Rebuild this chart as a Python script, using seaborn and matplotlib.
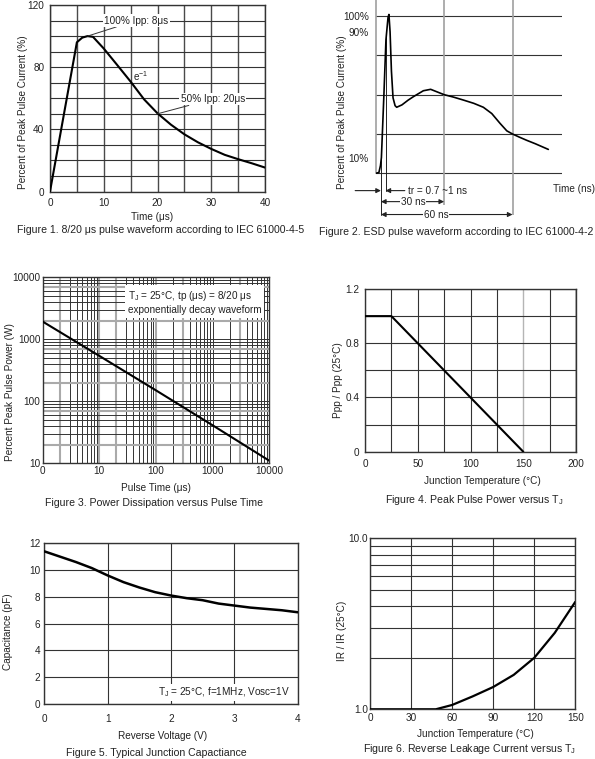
import numpy as np
import pandas as pd
import matplotlib
matplotlib.use("Agg")
import matplotlib.pyplot as plt
import seaborn as sns
from matplotlib.ticker import FixedLocator, NullFormatter, NullLocator

# ---------------- data ----------------
# Figure 1: 8/20 us waveform
f1_time = [0, 5, 6, 7, 8, 10, 12.5, 15, 17.5, 20, 22.5, 25, 27.5, 30, 32.5, 35, 37.5, 40]
f1_pct = [0, 96, 99, 100, 99.5, 92, 81.4, 70.7, 59.3, 50.3, 43, 36.8, 31.7, 27.4, 23.6, 20.8, 18.2, 15.4]
f1_xticks = [0, 10, 20, 30, 40]
f1_yticks = [0, 40, 80, 120]

# Figure 2: ESD waveform
f2_time = [0, 1.4, 2.1, 2.5, 3.6, 4.5, 5.4, 5.8, 6.3, 6.9, 7.6, 8.5, 9.2, 11.5, 14.2, 16.5,
           20.9, 24.1, 26.7, 30, 34, 38.4, 43, 47.2, 50.9, 54.5, 57.5, 60, 63, 66.2, 70, 75.7]
f2_pct = [0, 0.5, 5, 10, 50, 85, 99, 101, 90, 65, 48, 43, 42, 43.5, 46.5, 48.7,
          52.5, 53.4, 51.9, 50, 48.5, 46.6, 44.5, 42, 38, 31.8, 27, 25, 23, 21, 18.8, 15.2]
f2_yticks = [10, 90, 100]
f2_yticklabels = ["10%", "90%", "100%"]
f2_levels = [0, 25, 50, 75, 100]
f2_tr_start, f2_tr_end = 2.3, 4.3
f2_span30, f2_span60 = 30, 60

# Figure 3: power vs pulse time
f3_time = [1, 10, 100, 1000, 10000]
f3_power = [1930, 540, 150, 41, 11]
f3_xticks = [1, 10, 100, 1000, 10000]
f3_xticklabels = ["0", "10", "100", "1000", "10000"]
f3_yticks = [10, 100, 1000, 10000]
f3_yticklabels = ["10", "100", "1000", "10000"]

# Figure 4: derating
f4_temp = [0, 25, 150]
f4_ratio = [1.0, 1.0, 0.0]
f4_xticks = [0, 50, 100, 150, 200]
f4_yticks = [0, 0.4, 0.8, 1.2]
f4_yticklabels = ["0", "0.4", "0.8", "1.2"]

# Figure 5: capacitance
f5_volt = [0, 0.25, 0.5, 0.75, 1.0, 1.25, 1.5, 1.75, 2.0, 2.25, 2.5, 2.75, 3.0, 3.25, 3.5, 3.75, 4.0]
f5_cap = [11.4, 11.0, 10.6, 10.15, 9.6, 9.1, 8.7, 8.35, 8.1, 7.9, 7.75, 7.5, 7.35, 7.2, 7.1, 7.0, 6.85]
f5_xticks = [0, 1, 2, 3, 4]
f5_yticks = [0, 2, 4, 6, 8, 10, 12]

# Figure 6: leakage
f6_temp = [0, 30, 48, 60, 75, 90, 105, 120, 135, 150]
f6_ratio = [1.0, 1.0, 1.0, 1.06, 1.19, 1.35, 1.59, 2.0, 2.8, 4.25]
f6_xticks = [0, 30, 60, 90, 120, 150]
f6_yticks = [1, 10]
f6_yticklabels = ["1.0", "10.0"]

# ---------------- style ----------------
sns.set_style("white")
plt.rcParams['font.family'] = ['Liberation Sans', 'DejaVu Sans']
plt.rcParams['mathtext.fontset'] = 'custom'
plt.rcParams['mathtext.rm'] = 'Liberation Sans'
FS = 7.2
FSC = 7.6
TXT = '#222222'
DARK = '#333333'
LIGHT = '#aaaaaa'

W, H = 595, 759
fig = plt.figure(figsize=(W / 100, H / 100), dpi=100)


def make_ax(box):
    l, t, r, b = box
    ax = fig.add_axes([l / W, 1 - b / H, (r - l) / W, (b - t) / H])
    return ax


def place_labels(ax, box, xl=None, yl=None):
    l, t, r, b = box
    if xl is not None:
        ax.xaxis.set_label_coords((xl[0] - l) / (r - l), (b - xl[1]) / (b - t))
        ax.xaxis.label.set_va('center')
    if yl is not None:
        ax.yaxis.set_label_coords((yl[0] - l) / (r - l), (b - yl[1]) / (b - t))
        ax.yaxis.label.set_va('center')


def frame(ax, lw=1.0):
    for s in ax.spines.values():
        s.set_visible(True)
        s.set_color(DARK)
        s.set_linewidth(lw)


def caption(x, y, s):
    fig.text(x / W, 1 - y / H, s, ha='center', va='center', fontsize=FSC, color=TXT)


# ---------------- Figure 1 ----------------
b1 = (50, 5, 265, 191.5)
ax1 = make_ax(b1)
sns.lineplot(x=f1_time, y=f1_pct, ax=ax1, color='black', lw=1.5, zorder=3)
ax1.set_xlim(0, 40)
ax1.set_ylim(0, 120)
ax1.set_xticks(f1_xticks)
ax1.set_yticks(f1_yticks)
ax1.xaxis.set_minor_locator(FixedLocator([5, 15, 25, 35]))
ax1.yaxis.set_minor_locator(FixedLocator([10, 20, 30, 50, 60, 70, 90, 100, 110]))
ax1.grid(True, which='both', color=DARK, lw=0.8)
for tk in ax1.yaxis.get_minor_ticks():
    if tk.get_loc() in (30, 70, 90):
        tk.gridline.set_color(LIGHT)
        tk.gridline.set_linewidth(1.6)
for tk in ax1.xaxis.get_minor_ticks() + ax1.xaxis.get_major_ticks():
    tk.gridline.set_color('#4a4a4a')
    tk.gridline.set_linewidth(1.0)
ax1.set_axisbelow(True)
ax1.tick_params(which='both', length=0, labelsize=FS, labelcolor=TXT)
ax1.tick_params(axis='x', pad=5)
ax1.tick_params(axis='y', pad=4)
frame(ax1)
ax1.set_xlabel("Time (μs)", fontsize=FS, color=TXT)
ax1.set_ylabel("Percent of Peak Pulse Current (%)", fontsize=FS, color=TXT)
place_labels(ax1, b1, xl=(151.7, 216.7), yl=(23.3, 112))
bb = dict(facecolor='white', edgecolor='none', pad=1)
ax1.annotate("100% Ipp: 8μs", xy=(7, 100), xytext=(10.1, 110), fontsize=FS, color=TXT,
             ha='left', va='center', bbox=bb,
             arrowprops=dict(arrowstyle='-', color=DARK, lw=0.7, shrinkA=0, shrinkB=0))
ax1.text(15.4, 74.5, "e$^{-1}$", fontsize=FS, color=TXT, ha='left', va='center')
ax1.annotate("50% Ipp: 20μs", xy=(20, 50), xytext=(24.3, 59.5), fontsize=FS, color=TXT,
             ha='left', va='center', bbox=bb,
             arrowprops=dict(arrowstyle='-', color=DARK, lw=0.7, shrinkA=0, shrinkB=0))
caption(161, 230, "Figure 1. 8/20 μs pulse waveform according to IEC 61000-4-5")

# ---------------- Figure 2 ----------------
b2 = (375.7, 0.3, 562, 220.5)
ax2 = make_ax(b2)
ax2.set_xlim(0, 81.7)
ax2.set_ylim(-30, 110)
for lv in f2_levels:
    ax2.axhline(lv, color=DARK, lw=0.8, zorder=1)
ax2.vlines(f2_span30, -20, 110, color='#a0a0a0', lw=1.2, zorder=1)
ax2.vlines(f2_span60, -26.8, 110, color='#a0a0a0', lw=1.2, zorder=1)
sns.lineplot(x=f2_time, y=f2_pct, ax=ax2, color='black', lw=1.2, zorder=3)
ax2.plot([f2_tr_start, f2_tr_start], [10, -26.8], color=TXT, lw=0.7, zorder=2)
ax2.plot([f2_tr_end, f2_tr_end], [89, -11], color=TXT, lw=0.7, zorder=2)
for s in ('top', 'right', 'bottom'):
    ax2.spines[s].set_visible(False)
ax2.spines['left'].set_visible(True)
ax2.spines['left'].set_color('#a0a0a0')
ax2.spines['left'].set_linewidth(1.2)
ax2.spines['left'].set_bounds(0, 110)
ax2.set_xticks([])
ax2.set_yticks(f2_yticks)
ax2.set_yticklabels(f2_yticklabels)
ax2.tick_params(axis='y', length=4, width=0.8, color=TXT, labelsize=FS, labelcolor=TXT, pad=1)
ax2.set_ylabel("Percent of Peak Pulse Current (%)", fontsize=FS, color=TXT)
place_labels(ax2, b2, yl=(342, 112))
ap = dict(arrowstyle='-|>', color=TXT, lw=0.8, mutation_scale=7, shrinkA=0, shrinkB=0)
ap2 = dict(arrowstyle='<|-|>', color=TXT, lw=0.8, mutation_scale=7, shrinkA=0, shrinkB=0)
ax2.annotate('', xy=(f2_tr_start, -11), xytext=(-9, -11), arrowprops=ap, annotation_clip=False)
ax2.annotate('tr = 0.7 ~1 ns', xy=(f2_tr_end, -11), xytext=(14.2, -11), fontsize=FS, color=TXT,
             ha='left', va='center', arrowprops=ap, annotation_clip=False)
ax2.annotate('', xy=(f2_tr_start, -18), xytext=(f2_span30, -18), arrowprops=ap2, annotation_clip=False)
ax2.text(16.4, -18, '30 ns', fontsize=FS, color=TXT, ha='center', va='center',
         bbox=dict(facecolor='white', edgecolor='none', pad=0.5), zorder=4)
ax2.annotate('', xy=(f2_tr_start, -26.2), xytext=(f2_span60, -26.2), arrowprops=ap2, annotation_clip=False)
ax2.text(26.4, -26.2, '60 ns', fontsize=FS, color=TXT, ha='center', va='center',
         bbox=dict(facecolor='white', edgecolor='none', pad=0.5), zorder=4)
ax2.text(77.8, -9.7, 'Time (ns)', fontsize=FS, color=TXT, ha='left', va='center', clip_on=False)
caption(456.5, 231.7, "Figure 2. ESD pulse waveform according to IEC 61000-4-2")

# ---------------- Figure 3 ----------------
b3 = (42.7, 277.3, 269.3, 463.3)
ax3 = make_ax(b3)
ax3.set_xscale('log')
ax3.set_yscale('log')
sns.lineplot(x=f3_time, y=f3_power, ax=ax3, color='black', lw=1.5, zorder=3)
ax3.set_xlim(1, 10000)
ax3.set_ylim(10, 10000)
ax3.set_xticks(f3_xticks)
ax3.set_xticklabels(f3_xticklabels)
ax3.set_yticks(f3_yticks)
ax3.set_yticklabels(f3_yticklabels)
ax3.xaxis.set_minor_formatter(NullFormatter())
ax3.yaxis.set_minor_formatter(NullFormatter())
ax3.grid(True, which='both', color=DARK, lw=0.7)
ax3.set_axisbelow(True)
for tk in ax3.xaxis.get_minor_ticks():
    v = tk.get_loc()
    m = v / 10 ** np.floor(np.log10(v) + 1e-9)
    if (v < 10 and abs(m - 2) < 0.01) or (v > 10 and abs(m - 3) < 0.01):
        tk.gridline.set_color(LIGHT)
        tk.gridline.set_linewidth(1.5)
for tk in ax3.xaxis.get_major_ticks():
    if tk.get_loc() in (10, 100):
        tk.gridline.set_color(LIGHT)
        tk.gridline.set_linewidth(1.5)
for tk in ax3.yaxis.get_minor_ticks():
    v = tk.get_loc()
    m = v / 10 ** np.floor(np.log10(v) + 1e-9)
    if abs(m - 2) < 0.01 or abs(m - 7) < 0.01:
        tk.gridline.set_color(LIGHT)
        tk.gridline.set_linewidth(1.5)
ax3.tick_params(which='both', length=0, labelsize=FS, labelcolor=TXT)
ax3.tick_params(axis='x', pad=2)
ax3.tick_params(axis='y', pad=1.5)
frame(ax3)
ax3.set_xlabel("Pulse Time (μs)", fontsize=FS, color=TXT)
ax3.set_ylabel("Percent Peak Pulse Power (W)", fontsize=FS, color=TXT)
place_labels(ax3, b3, xl=(156, 488.3), yl=(10, 392))
ax3.text(0.375, 0.935, "T$_\\mathregular{J}$ = 25°C, tp (μs) = 8/20 μs\nexponentially decay waveform",
         transform=ax3.transAxes, fontsize=FS, color=TXT, ha='left', va='top', linespacing=1.25,
         bbox=dict(facecolor='white', edgecolor='none', pad=2), zorder=4)
caption(154, 503.3, "Figure 3. Power Dissipation versus Pulse Time")

# ---------------- Figure 4 ----------------
b4 = (365, 289, 576, 451.7)
ax4 = make_ax(b4)
sns.lineplot(x=f4_temp, y=f4_ratio, ax=ax4, color='black', lw=1.5, zorder=3)
ax4.set_xlim(0, 200)
ax4.set_ylim(0, 1.2)
ax4.set_xticks(f4_xticks)
ax4.set_yticks(f4_yticks)
ax4.set_yticklabels(f4_yticklabels)
ax4.xaxis.set_minor_locator(FixedLocator([25, 75, 125, 175]))
ax4.yaxis.set_minor_locator(FixedLocator([0.2, 0.6, 1.0]))
ax4.grid(True, which='both', color=DARK, lw=0.8)
ax4.set_axisbelow(True)
for tk in ax4.xaxis.get_major_ticks():
    if tk.get_loc() == 100:
        tk.gridline.set_color('#b5b5b5')
        tk.gridline.set_linewidth(1.0)
    if tk.get_loc() == 150:
        tk.gridline.set_color(LIGHT)
        tk.gridline.set_linewidth(1.8)
for tk in ax4.yaxis.get_minor_ticks():
    if abs(tk.get_loc() - 0.2) < 1e-6:
        tk.gridline.set_color(LIGHT)
        tk.gridline.set_linewidth(1.8)
ax4.tick_params(which='both', length=0, labelsize=FS, labelcolor=TXT)
ax4.tick_params(axis='x', pad=5)
ax4.tick_params(axis='y', pad=4)
frame(ax4)
ax4.set_xlabel("Junction Temperature (°C)", fontsize=FS, color=TXT)
ax4.set_ylabel("Ppp / Ppp (25°C)", fontsize=FS, color=TXT)
place_labels(ax4, b4, xl=(482, 480.7), yl=(338.3, 380))
caption(474, 500, "Figure 4. Peak Pulse Power versus T$_\\mathregular{J}$")

# ---------------- Figure 5 ----------------
b5 = (44.3, 543.3, 297.7, 704)
ax5 = make_ax(b5)
sns.lineplot(x=f5_volt, y=f5_cap, ax=ax5, color='black', lw=1.8, zorder=3)
ax5.set_xlim(0, 4)
ax5.set_ylim(0, 12)
ax5.set_xticks(f5_xticks)
ax5.set_yticks(f5_yticks)
ax5.grid(True, color=DARK, lw=0.8)
ax5.set_axisbelow(True)
ax5.tick_params(which='both', length=0, labelsize=FS, labelcolor=TXT)
ax5.tick_params(axis='x', pad=7)
ax5.tick_params(axis='y', pad=3)
frame(ax5)
ax5.set_xlabel("Reverse Voltage (V)", fontsize=FS, color=TXT)
ax5.set_ylabel("Capacitance (pF)", fontsize=FS, color=TXT)
place_labels(ax5, b5, xl=(162.3, 736), yl=(8.3, 631.7))
ax5.text(3.88, 0.87, "T$_\\mathregular{J}$ = 25°C, f=1MHz, Vosc=1V", fontsize=FS, color=TXT,
         ha='right', va='center', bbox=dict(facecolor='white', edgecolor='none', pad=1), zorder=4)
caption(156.7, 753.3, "Figure 5. Typical Junction Capactiance")

# ---------------- Figure 6 ----------------
b6 = (370, 538.3, 575.3, 709.3)
ax6 = make_ax(b6)
ax6.set_yscale('log')
sns.lineplot(x=f6_temp, y=f6_ratio, ax=ax6, color='black', lw=1.6, zorder=3)
ax6.set_xlim(0, 150)
ax6.set_ylim(1, 10)
ax6.set_xticks(f6_xticks)
ax6.set_yticks(f6_yticks)
ax6.set_yticklabels(f6_yticklabels)
ax6.yaxis.set_minor_locator(FixedLocator([2, 3, 4, 5, 6, 7, 8, 9]))
ax6.yaxis.set_minor_formatter(NullFormatter())
ax6.grid(True, which='both', color=DARK, lw=0.8)
ax6.set_axisbelow(True)
ax6.tick_params(which='both', length=0, labelsize=FS, labelcolor=TXT)
ax6.tick_params(axis='x', pad=3)
ax6.tick_params(axis='y', pad=1.5)
frame(ax6)
ax6.set_xlabel("Junction Temperature (°C)", fontsize=FS, color=TXT)
ax6.set_ylabel("IR / IR (25°C)", fontsize=FS, color=TXT)
place_labels(ax6, b6, xl=(475.7, 734), yl=(341.7, 630.7))
caption(470, 749.3, "Figure 6. Reverse Leakage Current versus T$_\\mathregular{J}$")

fig.savefig("out.png", dpi=100, facecolor='white')
